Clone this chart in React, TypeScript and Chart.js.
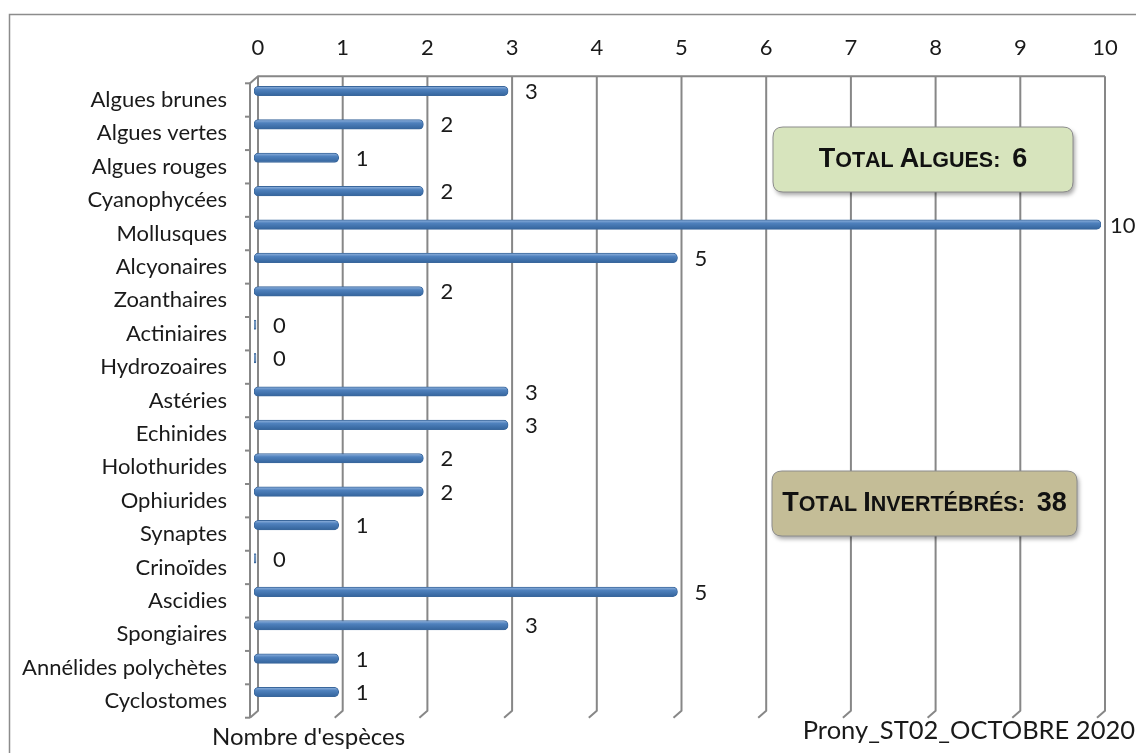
import React, { useEffect, useRef } from "react";
import { Chart, registerables } from "chart.js";

Chart.register(...registerables);

// ---------- data ----------
const categories = [
  "Algues brunes",
  "Algues vertes",
  "Algues rouges",
  "Cyanophycées",
  "Mollusques",
  "Alcyonaires",
  "Zoanthaires",
  "Actiniaires",
  "Hydrozoaires",
  "Astéries",
  "Echinides",
  "Holothurides",
  "Ophiurides",
  "Synaptes",
  "Crinoïdes",
  "Ascidies",
  "Spongiaires",
  "Annélides polychètes",
  "Cyclostomes",
];
const especes = [3, 2, 1, 2, 10, 5, 2, 0, 0, 3, 3, 2, 2, 1, 0, 5, 3, 1, 1];
const xMin = 0;
const xMax = 10;
const xStep = 1;
const totalAlguesText = "Total Algues:  6";
const totalInvertText = "Total Invertébrés:  38";
const axisTitle = "Nombre d'espèces";
const sourceLabel = "Prony_ST02_OCTOBRE 2020";

// ---------- style ----------
const FONT = "Lato, 'Open Sans', sans-serif";
const FS = 22;
const GRID = "#878787";
const DEPTH_X = 8;
const DEPTH_Y = 7;
const BAR_DX = -4;
const BAR_DY = -9;

function drawSmallCaps(ctx: CanvasRenderingContext2D, text: string, cx: number, cy: number, big: number, small: number) {
  const segs: { t: string; s: number }[] = [];
  for (const ch of text) {
    const isBig = (ch !== ch.toLowerCase() && ch === ch.toUpperCase()) || /[0-9]/.test(ch);
    segs.push({ t: ch.toUpperCase(), s: isBig ? big : small });
  }
  let w = 0;
  for (const s of segs) {
    ctx.font = `bold ${s.s}px 'Liberation Sans', Arial, sans-serif`;
    w += ctx.measureText(s.t).width;
  }
  let x = cx - w / 2;
  ctx.textBaseline = "alphabetic";
  ctx.textAlign = "left";
  for (const s of segs) {
    ctx.font = `bold ${s.s}px 'Liberation Sans', Arial, sans-serif`;
    ctx.fillText(s.t, x, cy + big * 0.36);
    x += ctx.measureText(s.t).width;
  }
}

function roundRect(ctx: CanvasRenderingContext2D, x: number, y: number, w: number, h: number, r: number) {
  ctx.beginPath();
  ctx.moveTo(x + r, y);
  ctx.lineTo(x + w - r, y);
  ctx.quadraticCurveTo(x + w, y, x + w, y + r);
  ctx.lineTo(x + w, y + h - r);
  ctx.quadraticCurveTo(x + w, y + h, x + w - r, y + h);
  ctx.lineTo(x + r, y + h);
  ctx.quadraticCurveTo(x, y + h, x, y + h - r);
  ctx.lineTo(x, y + r);
  ctx.quadraticCurveTo(x, y, x + r, y);
  ctx.closePath();
}

function drawBox(ctx: CanvasRenderingContext2D, x: number, y: number, w: number, h: number, fill: string, text: string) {
  ctx.save();
  ctx.shadowColor = "rgba(0,0,0,0.35)";
  ctx.shadowBlur = 4;
  ctx.shadowOffsetX = 2;
  ctx.shadowOffsetY = 3;
  roundRect(ctx, x, y, w, h, 10);
  ctx.fillStyle = fill;
  ctx.fill();
  ctx.restore();
  ctx.save();
  roundRect(ctx, x, y, w, h, 10);
  ctx.strokeStyle = "#8c8c8c";
  ctx.lineWidth = 1;
  ctx.stroke();
  ctx.fillStyle = "#111";
  drawSmallCaps(ctx, text, x + w / 2, y + h / 2 - 2, 27, 21.5);
  ctx.restore();
}

const decorPlugin = {
  id: "decor",
  beforeDraw(chart: any) {
    const { ctx, width, height } = chart;
    ctx.save();
    ctx.fillStyle = "#fff";
    ctx.fillRect(0, 0, width, height);
    ctx.strokeStyle = "#8c8c8c";
    ctx.lineWidth = 1.5;
    ctx.strokeRect(9.5, 14.5, width + 20, height + 20);
    ctx.restore();
  },
  beforeDatasetsDraw(chart: any) {
    const { ctx, chartArea } = chart;
    const xs = chart.scales.x;
    const ys = chart.scales.y;
    const top = chartArea.top;
    const bottom = chartArea.bottom;
    ctx.save();
    ctx.strokeStyle = GRID;
    ctx.lineWidth = 2;
    ctx.lineJoin = "round";
    xs.ticks.forEach((t: any) => {
      const px = xs.getPixelForValue(t.value);
      ctx.beginPath();
      ctx.moveTo(px, top - DEPTH_Y);
      ctx.lineTo(px, bottom - DEPTH_Y);
      ctx.lineTo(px - DEPTH_X, bottom);
      ctx.stroke();
    });
    const x0 = xs.getPixelForValue(xMin);
    const x1 = xs.getPixelForValue(xMax);
    ctx.beginPath();
    ctx.moveTo(x1, top - DEPTH_Y);
    ctx.lineTo(x0, top - DEPTH_Y);
    ctx.lineTo(x0 - DEPTH_X, top);
    ctx.lineTo(x0 - DEPTH_X, bottom);
    ctx.stroke();
    for (let i = 0; i <= categories.length; i++) {
      const py = ys.getPixelForValue(i - 0.5);
      ctx.beginPath();
      ctx.moveTo(x0 - DEPTH_X, py);
      ctx.lineTo(x0 - DEPTH_X - 5, py);
      ctx.stroke();
    }
    ctx.restore();
    ctx.save();
    ctx.translate(BAR_DX, BAR_DY);
  },
  afterDatasetsDraw(chart: any) {
    const { ctx } = chart;
    ctx.restore();
    const meta = chart.getDatasetMeta(0);
    ctx.save();
    ctx.fillStyle = "#1a1a1a";
    ctx.font = `${FS}px ${FONT}`;
    ctx.textAlign = "left";
    ctx.textBaseline = "middle";
    meta.data.forEach((el: any, i: number) => {
      const v = especes[i];
      const gap = v >= xMax ? 9 : 17;
      ctx.fillText(String(v), el.x + BAR_DX + gap, el.y + BAR_DY + 1);
    });
    ctx.restore();
  },
  afterDraw(chart: any) {
    const { ctx, width } = chart;
    drawBox(ctx, 773, 127, 300, 65, "#d7e4bd", totalAlguesText);
    drawBox(ctx, 772, 471, 305, 65, "#c4bd97", totalInvertText);
    ctx.save();
    ctx.fillStyle = "#1a1a1a";
    ctx.textBaseline = "middle";
    ctx.textAlign = "left";
    ctx.font = `24px ${FONT}`;
    ctx.fillText(axisTitle, 212, 737);
    ctx.textAlign = "right";
    ctx.font = `25.5px ${FONT}`;
    ctx.fillText(sourceLabel, width - 1, 731);
    ctx.restore();
  },
};

export default function App() {
  const ref = useRef<HTMLCanvasElement | null>(null);
  useEffect(() => {
    if (!ref.current) return;
    const ctx2d = ref.current.getContext("2d") as CanvasRenderingContext2D;
    const chart = new Chart(ref.current, {
      type: "bar",
      data: {
        labels: categories,
        datasets: [
          {
            label: "Nombre d'espèces",
            data: especes,
            barThickness: 9.5,
            minBarLength: 2,
            borderRadius: 4.5,
            borderSkipped: false,
            borderWidth: 1,
            borderColor: "#3a679c",
            backgroundColor: (c: any) => {
              const ys = c.chart.scales && c.chart.scales.y;
              if (!ys || typeof c.dataIndex !== "number") return "#4f81bd";
              const yc = ys.getPixelForValue(c.dataIndex);
              if (!Number.isFinite(yc)) return "#4f81bd";
              const g = ctx2d.createLinearGradient(0, yc - 4.75, 0, yc + 4.75);
              g.addColorStop(0, "#95b6e0");
              g.addColorStop(0.35, "#4f81bd");
              g.addColorStop(1, "#34649c");
              return g;
            },
          },
        ],
      },
      options: {
        indexAxis: "y",
        responsive: false,
        animation: false,
        events: [],
        layout: { padding: { left: 0, right: 31, top: 0, bottom: 35.3 } },
        plugins: {
          legend: { display: false },
          tooltip: { enabled: false },
        },
        scales: {
          x: {
            position: "top",
            min: xMin,
            max: xMax,
            afterFit: (s: any) => {
              s.height = 83.3;
              s.paddingLeft = 0;
              s.paddingRight = 0;
            },
            ticks: {
              stepSize: xStep,
              padding: 22,
              maxRotation: 0,
              color: "#1a1a1a",
              font: { family: FONT, size: FS },
            },
            grid: { display: false, drawTicks: false },
            border: { display: false },
          },
          y: {
            afterFit: (s: any) => {
              s.width = 258;
              s.paddingTop = 0;
              s.paddingBottom = 0;
            },
            ticks: {
              padding: 31,
              color: "#1a1a1a",
              autoSkip: false,
              font: { family: FONT, size: FS },
            },
            grid: { display: false, drawTicks: false },
            border: { display: false },
          },
        },
      },
      plugins: [decorPlugin],
    } as any);
    return () => chart.destroy();
  }, []);
  return (
    <div style={{ position: "fixed", left: 0, top: 0, width: 1136, height: 753, background: "#fff" }}>
      <canvas ref={ref} width={1136} height={753} style={{ display: "block", width: 1136, height: 753 }} />
    </div>
  );
}
